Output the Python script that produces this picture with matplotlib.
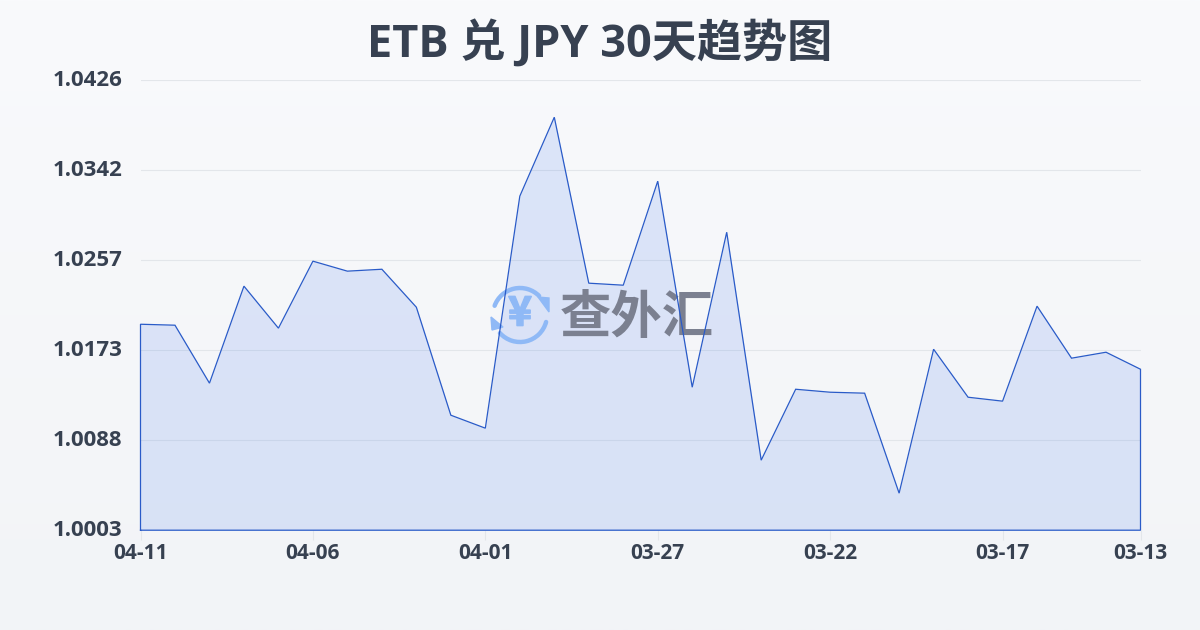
import numpy as np
import matplotlib
matplotlib.use("Agg")
import matplotlib.pyplot as plt
import matplotlib.patheffects as pe
from matplotlib.patches import Arc, Polygon
from matplotlib.transforms import Affine2D, ScaledTranslation

plt.rcParams['font.family'] = ['Open Sans', 'Noto Sans CJK SC', 'DejaVu Sans']

# values, newest first
dates = ['04-11', '04-10', '04-09', '04-08', '04-07', '04-06', '04-05', '04-04', '04-03', '04-02',
         '04-01', '03-31', '03-30', '03-29', '03-28', '03-27', '03-26', '03-25', '03-24', '03-23',
         '03-22', '03-21', '03-20', '03-19', '03-18', '03-17', '03-16', '03-15', '03-14', '03-13']
rates = [1.01966, 1.01957, 1.01412, 1.02324, 1.01929, 1.02559, 1.02465, 1.02483, 1.02126, 1.01111,
         1.00989, 1.03170, 1.03912, 1.02352, 1.02333, 1.03311, 1.01374, 1.02831, 1.00688, 1.01355,
         1.01327, 1.01318, 1.00378, 1.01731, 1.01280, 1.01243, 1.02136, 1.01647, 1.01703, 1.01543]
y_ticks = [1.0003, 1.00876, 1.01722, 1.02568, 1.03414, 1.0426]
y_labels = ['1.0003', '1.0088', '1.0173', '1.0257', '1.0342', '1.0426']
x_ticks = [0, 5, 10, 15, 20, 25, 29]

TEXT = '#374151'
LINE = '#2a5bc8'
WM_BLUE = '#8fb9f6'
WM_GREY = '#7b8090'

fig = plt.figure(figsize=(12, 6.3), dpi=100)

# page background
bg = fig.add_axes([0, 0, 1, 1], zorder=-1)
bg.imshow(np.linspace(0, 1, 256).reshape(-1, 1), aspect='auto', extent=(0, 1, 0, 1),
          cmap=matplotlib.colors.LinearSegmentedColormap.from_list('bg', ['#f9fafc', '#f2f4f7']))
bg.axis('off')

ax = fig.add_axes([140.5 / 1200, 1 - 530.2 / 630, 1000 / 1200, 450 / 630])
ax.patch.set_alpha(0)
xs = np.arange(len(dates))
ax.set_xlim(0, len(dates) - 1)
ax.set_ylim(y_ticks[0], y_ticks[-1])

ax.fill_between(xs, rates, y_ticks[0], color='#2563eb', alpha=0.13, lw=0, zorder=1.5)

# watermark, in pixel coords
px = Affine2D().scale(1, -1).translate(0, 630)
cx, cy = 520, 315
for start, end in [(-160, -45), (15, 138)]:
    ax.add_patch(Arc((cx, cy), 54, 54, theta1=start, theta2=end, lw=3.2, color=WM_BLUE,
                     transform=px, clip_on=False, zorder=2, capstyle='round'))
ax.add_patch(Polygon([(538, 297), (549, 298), (549, 312)], color=WM_BLUE, transform=px, zorder=2))
ax.add_patch(Polygon([(491, 317), (503, 327), (492, 330)], color=WM_BLUE, transform=px, zorder=2))
ax.text(cx, cy - 1, '¥', transform=px, color=WM_BLUE, fontsize=29, fontweight='bold',
        family=['Noto Sans CJK SC'], ha='center', va='center', zorder=2,
        path_effects=[pe.withStroke(linewidth=1.2, foreground=WM_BLUE)])
ax.text(637, 317, '查外汇', transform=px, color=WM_GREY, fontsize=37, fontweight='bold',
        family=['Noto Sans CJK SC'], ha='center', va='center', zorder=2)

ax.plot(np.r_[xs[0], xs, xs[-1], xs[0]], np.r_[y_ticks[0], rates, y_ticks[0], y_ticks[0]],
        color=LINE, lw=0.9, zorder=4, solid_joinstyle='miter', clip_on=False)

ax.set_yticks(y_ticks)
ax.set_yticklabels(y_labels, fontsize=16, fontweight='bold', color=TEXT)
ax.set_xticks(x_ticks)
ax.set_xticklabels([dates[i] for i in x_ticks], fontsize=15, fontweight='bold', color=TEXT)
ax.grid(axis='y', color='#e3e6ea', lw=0.8, zorder=1)
ax.set_axisbelow(True)
ax.tick_params(axis='y', length=0, pad=13)
ax.tick_params(axis='x', length=7, width=0.8, color='#e3e6ea', pad=2)
up = ScaledTranslation(0, 2 / 100, fig.dpi_scale_trans)
for lab in ax.get_yticklabels():
    lab.set_transform(lab.get_transform() + up)
for s in ax.spines.values():
    s.set_visible(False)

fig.text(0.4995, 1 - 45 / 630, 'ETB 兑 JPY 30天趋势图', ha='center', va='center',
         fontsize=32.5, fontweight='bold', color=TEXT)

fig.savefig('out.png', dpi=100)
